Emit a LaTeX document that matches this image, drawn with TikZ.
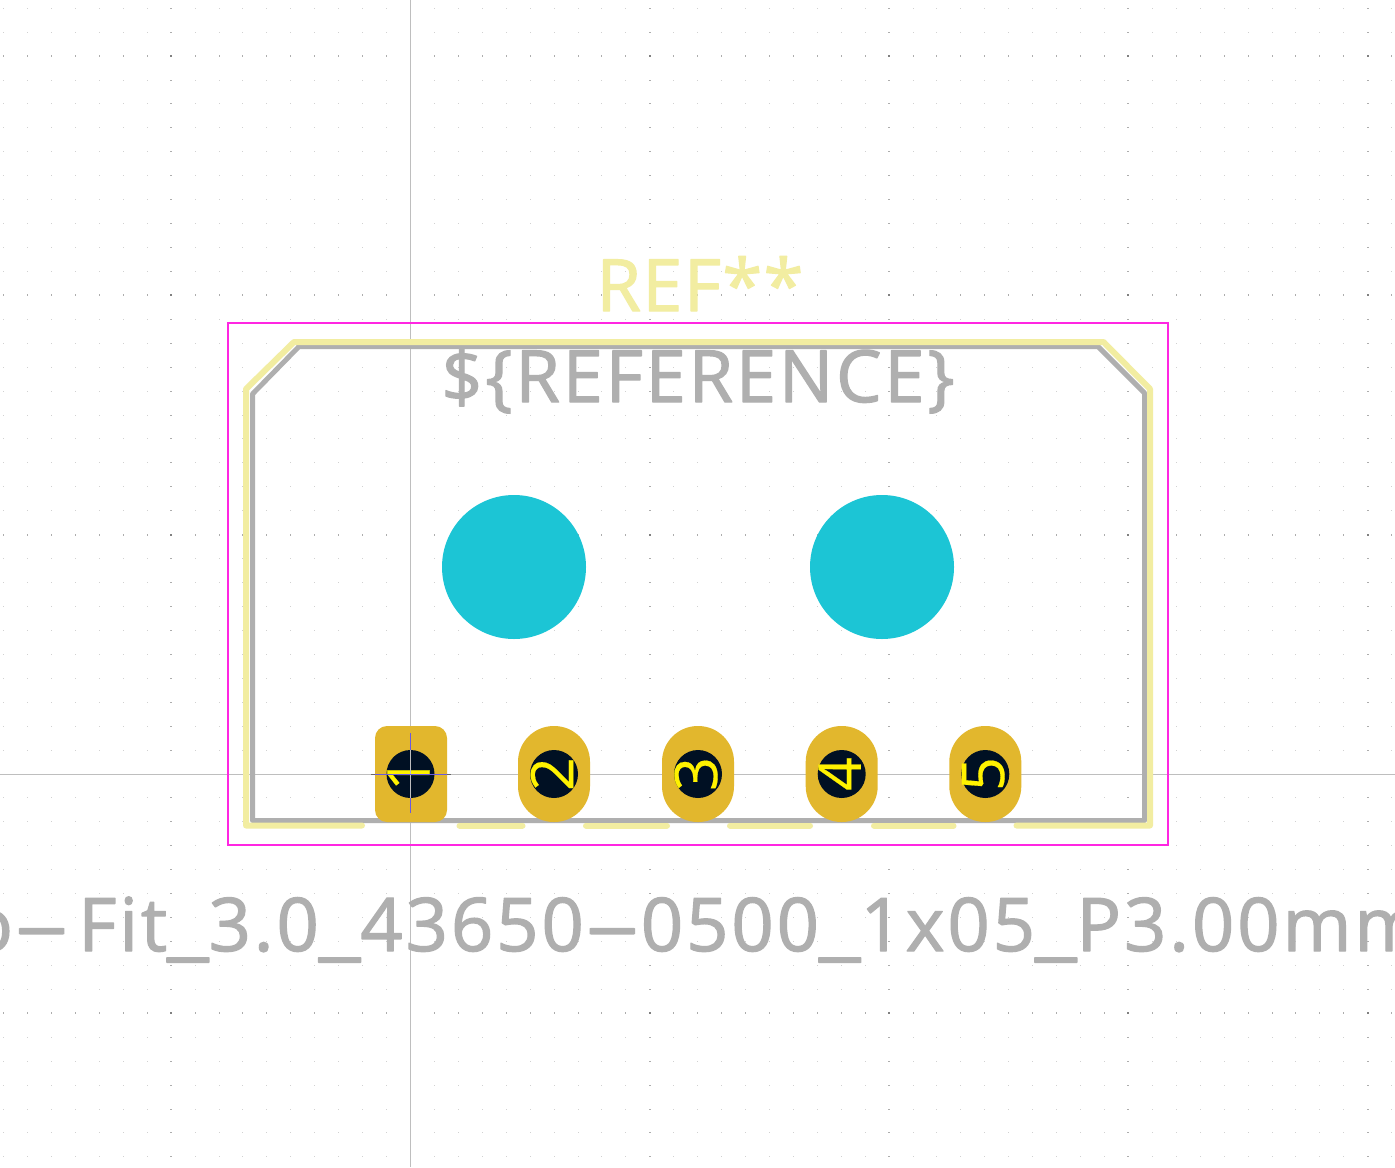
\documentclass[tikz,border=0pt]{standalone}
\usepackage{graphicx}
\usepackage{fontspec}
\setmainfont{Open Sans}
\newfontfamily\fabfont[FakeBold=1.7]{Open Sans}
\newfontfamily\padfont[FakeBold=0.3]{Open Sans}
\definecolor{silk}{HTML}{F2EDA1}
\definecolor{fab}{HTML}{AFAFAF}
\definecolor{court}{HTML}{FF26E2}
\definecolor{padcol}{HTML}{E2B72D}
\definecolor{holecol}{HTML}{001023}
\definecolor{npth}{HTML}{1CC5D5}
\definecolor{axiscol}{HTML}{BEBEBE}
\definecolor{anchorcol}{HTML}{6A5AE0}
\newcommand{\widedash}{\scalebox{2.4}[1]{-}}
\newcommand{\wideline}{\scalebox{1.25}[1]{\_}}
\tikzset{
  silkline/.style={silk, line width=3pt, line cap=round, line join=round},
  fabline/.style={fab, line width=2.5pt, line join=round},
  courtline/.style={court, line width=1pt},
  axisline/.style={axiscol, line width=0.5pt},
  griddot/.style={black!18},
  majordot/.style={black!32},
  ovalpad/.style={fill=padcol, rounded corners=17.9pt},
  padnum/.style={text=yellow, rotate=90, inner sep=0pt, font=\padfont\fontsize{29.5}{29.5}\selectfont},
  fabtext/.style={text=fab, inner sep=0pt, execute at begin node=\special{pdf:code 1 j 1 J}}
}
\begin{document}
\begin{tikzpicture}[x=0.5pt,y=-0.5pt]
  \useasboundingbox (0,0) rectangle (1395,1167);
  \fill[white] (0,0) rectangle (1395,1167);
  % Raster
  \foreach \i in {-17,...,41} {
    \foreach \j in {-32,...,16} {
      \fill[griddot] ({410.5+\i*23.93-0.5},{774+\j*23.93-0.5}) rectangle +(1,1);
    }
  }
  \foreach \i in {-10,10,20,30,40} {
    \foreach \j in {-32,...,16} {
      \fill[majordot] ({410.5+\i*23.93-1},{774+\j*23.93-0.5}) rectangle +(2,1);
    }
  }
  \foreach \j in {-30,-20,-10,10} {
    \foreach \i in {-17,...,41} {
      \fill[majordot] ({410.5+\i*23.93-0.5},{774+\j*23.93-1}) rectangle +(1,2);
    }
  }
  \foreach \i in {-10,10,20,30,40} {
    \foreach \j in {-30,-20,-10,10} {
      \fill[black!50] ({410.5+\i*23.93-1},{774+\j*23.93-1}) rectangle +(2,2);
    }
  }
  % Achsen
  \draw[axisline] (410.5,0) -- (410.5,1167);
  \draw[axisline] (0,774) -- (1395,774);
  % Courtyard
  \draw[courtline] (228,323) rectangle (1168,845);
  % Fab
  \draw[fabline] (252.5,394) -- (299,346.5) -- (1098,346.5) -- (1144.5,393)
    -- (1144.5,820.5) -- (252.5,820.5) -- cycle;
  % Silk
  \draw[silkline] (362,825.5) -- (246,825.5) -- (246,389) -- (294,342)
    -- (1103.5,342) -- (1150,389) -- (1150,825.5) -- (1016.5,825.5);
  \draw[silkline] (459.5,825.5) -- (522.5,825.5);
  \draw[silkline] (586,825.5) -- (667,825.5);
  \draw[silkline] (730,825.5) -- (810,825.5);
  \draw[silkline] (874,825.5) -- (953.5,825.5);
  % Bohrungen
  \fill[npth] (514,567) circle (72);
  \fill[npth] (882,567) circle (72);
  % Pads
  \fill[padcol, rounded corners=6pt] (375,726) rectangle (447,822);
  \foreach \x/\n in {554/2,698/3,841.7/4,985.3/5} {
    \fill[ovalpad] (\x-36,726) rectangle (\x+36,822);
  }
  \foreach \x/\n in {410.5/1,554/2,698/3,841.7/4,985.3/5} {
    \fill[holecol] (\x,774) circle (24);
    \node[padnum] (pad\n) at (\x-2,774) {\n};
  }
  % Anker
  \draw[axisline] (410.5,750) -- (410.5,798);
  \draw[black!60, line width=0.5pt] (371,774) -- (451,774);
  \draw[anchorcol, line width=0.5pt] (375,774) -- (447,774);
  \draw[anchorcol, line width=0.5pt] (410.5,733) -- (410.5,750);
  \draw[anchorcol, line width=0.5pt] (410.5,798) -- (410.5,813);
  % Beschriftungen
  \node[fabtext, text=silk, anchor=base, font=\fabfont\fontsize{36}{36}\selectfont\addfontfeature{LetterSpace=2}] (refsilk) at (700,311) {REF**};
  \node[fabtext, anchor=base, font=\fabfont\fontsize{36}{36}\selectfont\addfontfeature{LetterSpace=4}] (reffab) at (698,402) {\$\{REFERENCE\}};
  \node[fabtext, anchor=base west, font=\fabfont\fontsize{37}{37}\selectfont\addfontfeature{LetterSpace=4}] (fpname) at (-32,951) {o\widedash\kern4pt Fit\wideline 3.0\wideline 43650\widedash 0500\wideline 1x05\wideline P3.00mm};
\end{tikzpicture}
\end{document}
